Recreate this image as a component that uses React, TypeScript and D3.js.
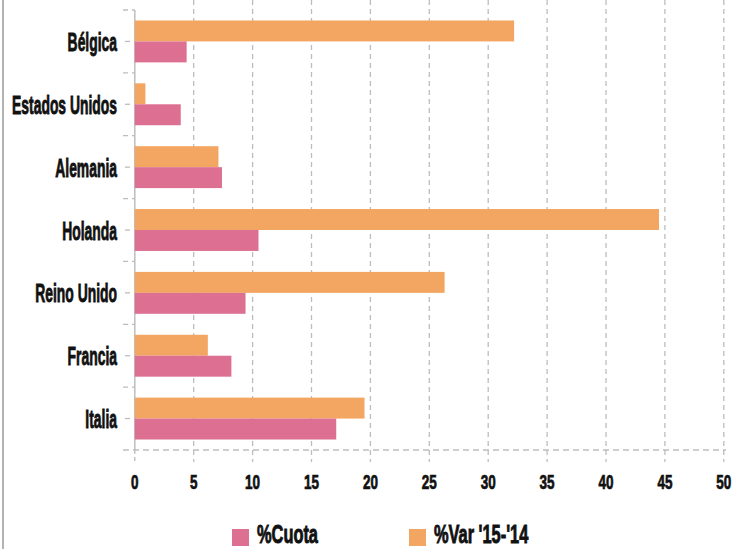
import React, { useEffect, useRef } from 'react';
import * as d3 from 'd3';

const categories = ['Bélgica', 'Estados Unidos', 'Alemania', 'Holanda', 'Reino Unido', 'Francia', 'Italia'];
const cuota = [4.4, 3.9, 7.4, 10.5, 9.4, 8.2, 17.1];
const varPct = [32.2, 0.9, 7.1, 44.5, 26.3, 6.2, 19.5];
const xTicks = [0, 5, 10, 15, 20, 25, 30, 35, 40, 45, 50];
const seriesNames = ['%Cuota', "%Var '15-'14"];

const PINK = '#dd7092';
const ORANGE = '#f3a562';
const GRID = '#bdbdbd';
const FONT = "'Liberation Sans Narrow', 'Liberation Sans', Arial, sans-serif";

// measure natural text width so the condensed look can be matched
const measure = (svg: any, str: string, size: number) => {
    const t = svg.append('text')
        .attr('font-family', FONT)
        .attr('font-weight', 'bold')
        .attr('font-size', size)
        .text(str);
    const w = (t.node() as SVGTextElement).getComputedTextLength();
    t.remove();
    return w;
};

const App = () => {
    const svgRef = useRef<SVGSVGElement>(null);

    useEffect(() => {
        const svg = d3.select(svgRef.current);
        svg.selectAll('*').remove();

        const labelScale = 105 / measure(svg, 'Estados Unidos', 26.5);
        const tickScale = 15 / measure(svg, '20', 19.5);
        const legendScale = 61 / measure(svg, '%Cuota', 25);

        const x = d3.scaleLinear().domain([0, 50]).range([134.8, 723.8]);
        const y = d3.scaleBand().domain(categories).range([10, 450]);
        const bw = y.bandwidth();
        const sub = d3
            .scaleBand()
            .domain(['var', 'cuota'])
            .range([bw / 6, (bw * 5) / 6]);

        // left frame line
        svg.append('line')
            .attr('x1', 3).attr('x2', 3)
            .attr('y1', 0).attr('y2', 549)
            .attr('stroke', '#9a9a9a')
            .attr('stroke-width', 1.5);

        // vertical grid lines
        svg.append('g')
            .selectAll('line')
            .data(xTicks.filter((d) => d > 0))
            .enter()
            .append('line')
            .attr('x1', (d) => x(d)).attr('x2', (d) => x(d))
            .attr('y1', 0).attr('y2', 462)
            .attr('stroke', GRID)
            .attr('stroke-width', 1.3)
            .attr('stroke-dasharray', '5,4');

        // x axis dashed line
        svg.append('line')
            .attr('x1', 123).attr('x2', 726)
            .attr('y1', y.range()[1]).attr('y2', y.range()[1])
            .attr('stroke', GRID)
            .attr('stroke-width', 1.3)
            .attr('stroke-dasharray', '6,4');

        // y axis solid line + dashed continuation below
        svg.append('line')
            .attr('x1', x(0)).attr('x2', x(0))
            .attr('y1', y.range()[0]).attr('y2', y.range()[1])
            .attr('stroke', GRID)
            .attr('stroke-width', 1.5);
        svg.append('line')
            .attr('x1', x(0)).attr('x2', x(0))
            .attr('y1', y.range()[1]).attr('y2', 462)
            .attr('stroke', GRID)
            .attr('stroke-width', 1.3)
            .attr('stroke-dasharray', '4,3');

        // category ticks: boundaries and centres
        svg.append('g')
            .selectAll('line')
            .data(categories)
            .enter()
            .append('line')
            .attr('x1', 123).attr('x2', x(0))
            .attr('y1', (d) => y(d) as number).attr('y2', (d) => y(d) as number)
            .attr('stroke', GRID)
            .attr('stroke-width', 1.3)
            .attr('stroke-dasharray', '5,4');
        svg.append('g')
            .selectAll('line')
            .data(categories)
            .enter()
            .append('line')
            .attr('x1', 125).attr('x2', 130)
            .attr('y1', (d) => (y(d) as number) + bw / 2)
            .attr('y2', (d) => (y(d) as number) + bw / 2)
            .attr('stroke', GRID)
            .attr('stroke-width', 1.3);

        // bars
        const groups = svg.append('g')
            .selectAll('g')
            .data(categories)
            .enter()
            .append('g')
            .attr('transform', (d) => `translate(0,${y(d)})`);

        groups.append('rect')
            .attr('x', x(0))
            .attr('y', sub('var') as number)
            .attr('width', (d, i) => x(varPct[i]) - x(0))
            .attr('height', sub.bandwidth())
            .attr('fill', ORANGE);

        groups.append('rect')
            .attr('x', x(0))
            .attr('y', sub('cuota') as number)
            .attr('width', (d, i) => x(cuota[i]) - x(0))
            .attr('height', sub.bandwidth())
            .attr('fill', PINK);

        // category labels
        svg.append('g')
            .selectAll('text')
            .data(categories)
            .enter()
            .append('text')
            .attr('transform', (d) => `translate(117,${(y(d) as number) + bw / 2 + 9.5}) scale(${labelScale},1)`)
            .attr('text-anchor', 'end')
            .attr('font-family', FONT)
            .attr('font-weight', 'bold')
            .attr('font-size', 26.5)
            .attr('fill', '#111')
            .attr('stroke', '#111')
            .attr('stroke-width', 0.9)
            .text((d) => d);

        // x tick labels
        svg.append('g')
            .selectAll('text')
            .data(xTicks)
            .enter()
            .append('text')
            .attr('transform', (d) => `translate(${x(d)},489) scale(${tickScale},1)`)
            .attr('text-anchor', 'middle')
            .attr('font-family', FONT)
            .attr('font-weight', 'bold')
            .attr('font-size', 19.5)
            .attr('fill', '#111')
            .attr('stroke', '#111')
            .attr('stroke-width', 0.7)
            .text((d) => d);

        // legend
        const legend = [
            { name: seriesNames[0], color: PINK, x: 232 },
            { name: seriesNames[1], color: ORANGE, x: 409 },
        ];
        const lg = svg.append('g')
            .selectAll('g')
            .data(legend)
            .enter()
            .append('g')
            .attr('transform', (d) => `translate(${d.x},0)`);
        lg.append('rect')
            .attr('x', 0).attr('y', 529)
            .attr('width', 17).attr('height', 17)
            .attr('fill', (d) => d.color);
        lg.append('text')
            .attr('transform', `translate(25,543) scale(${legendScale},1)`)
            .attr('font-family', FONT)
            .attr('font-weight', 'bold')
            .attr('font-size', 25)
            .attr('fill', '#111')
            .attr('stroke', '#111')
            .attr('stroke-width', 0.9)
            .text((d) => d.name);
    }, []);

    return (
        <svg
            ref={svgRef}
            width={742}
            height={549}
            style={{ position: 'absolute', left: 0, top: 0, background: '#fff', display: 'block' }}
        />
    );
};

export default App;
